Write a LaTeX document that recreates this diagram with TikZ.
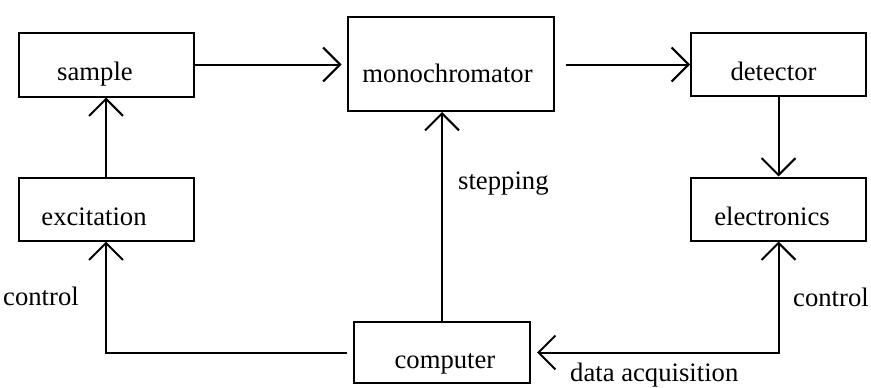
\documentclass[tikz,border=0pt]{standalone}
\usepackage{fontspec}
\setmainfont{Liberation Serif}
\usetikzlibrary{arrows.meta}
\begin{document}
\begin{tikzpicture}[x=1pt,y=-1pt,
  every node/.style={font=\fontsize{26.67}{32}\selectfont},
  box/.style={draw, line width=2pt, inner sep=0pt},
  txt/.style={inner sep=0pt, text height=0pt, text depth=0pt},
  lbl/.style={anchor=base west, inner sep=0pt},
  arr/.style={line width=2pt, -{Straight Barb[length=17pt,width=34pt]}},
  arrtwo/.style={line width=2pt, {Straight Barb[length=17pt,width=34pt]}-{Straight Barb[length=17pt,width=34pt]}}]
\useasboundingbox (0,0) rectangle (871,388);
\node[box, minimum width=175pt, minimum height=64pt,
  label={[txt, xshift=-11pt, yshift=-15.5pt]center:sample}] (sample) at (106,64.5) {};
\node[box, minimum width=206pt, minimum height=94pt,
  label={[txt, xshift=-3pt, yshift=-18pt]center:monochromator}] (mono) at (450.5,64) {};
\node[box, minimum width=175pt, minimum height=63pt,
  label={[txt, xshift=-5pt, yshift=-16pt]center:detector}] (det) at (778.5,64.5) {};
\node[box, minimum width=175pt, minimum height=63pt,
  label={[txt, xshift=-12pt, yshift=-16.5pt]center:excitation}] (exc) at (106,209) {};
\node[box, minimum width=175pt, minimum height=63pt,
  label={[txt, xshift=-6.5pt, yshift=-16.5pt]center:electronics}] (ele) at (778.5,209) {};
\node[box, minimum width=176pt, minimum height=61pt,
  label={[txt, xshift=3pt, yshift=-16pt]center:computer}] (comp) at (442,352.5) {};

\draw[arr, shorten >=5pt] (sample.east) -- (mono.west |- sample.east);
\draw[arr, shorten <=11pt] (mono.east |- det.west) -- (det.west);
\draw[arr] (det.south) -- (ele.north);
\draw[arr] (exc.north) -- (sample.south);
\draw[arr] (comp.north) -- (comp.north |- mono.south);
\draw[arr, shorten <=6pt] (comp.west) -| (exc.south);
\draw[arrtwo, shorten >=6pt] (ele.south) |- (comp.east);

\node[lbl] (step) at (458,189) {stepping};
\node[lbl] (ctl1) at (3,305) {control};
\node[lbl] (ctl2) at (793,306) {control};
\node[lbl] (daq) at (570,381) {data acquisition};
\end{tikzpicture}
\end{document}
